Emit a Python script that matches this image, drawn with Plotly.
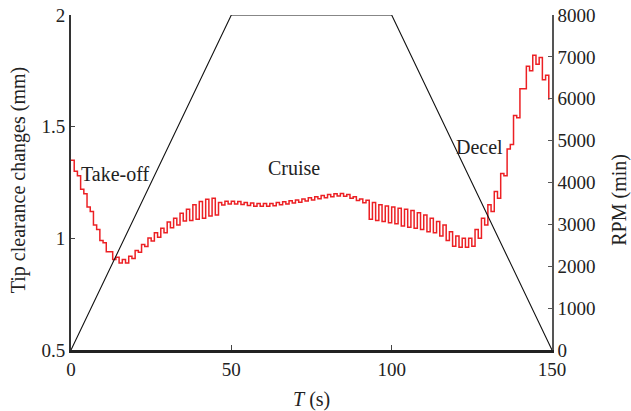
import plotly.graph_objects as go

# Sample times (s) for the tip-clearance record
time_s = list(range(150))

# Tip clearance changes (mm)
clearance_mm = [
    1.35, 1.30, 1.28, 1.22, 1.20, 1.14, 1.12, 1.06, 1.04, 0.99,
    0.98, 0.94, 0.94, 0.905, 0.915, 0.89, 0.905, 0.89, 0.92, 0.91,
    0.945, 0.938, 0.972, 0.963, 1.002, 0.988, 1.025, 1.005, 1.045, 1.025,
    1.073, 1.047, 1.09, 1.06, 1.112, 1.078, 1.13, 1.08, 1.15, 1.085,
    1.165, 1.09, 1.175, 1.10, 1.18, 1.105, 1.16, 1.149, 1.166, 1.154,
    1.166, 1.154, 1.165, 1.152, 1.161, 1.147, 1.158, 1.144, 1.156, 1.144,
    1.156, 1.144, 1.156, 1.146, 1.161, 1.150, 1.164, 1.154, 1.168, 1.158,
    1.172, 1.162, 1.176, 1.167, 1.182, 1.172, 1.186, 1.177, 1.192, 1.182,
    1.196, 1.186, 1.200, 1.189, 1.201, 1.188, 1.196, 1.179, 1.186, 1.169,
    1.176, 1.159, 1.171, 1.085, 1.16, 1.08, 1.15, 1.075, 1.145, 1.07,
    1.14, 1.065, 1.135, 1.055, 1.13, 1.05, 1.125, 1.045, 1.115, 1.04,
    1.105, 1.03, 1.09, 1.025, 1.075, 1.01, 1.06, 0.99, 1.03, 0.965,
    1.01, 0.96, 1.0, 0.96, 1.0, 0.965, 1.04, 1.00, 1.09, 1.06,
    1.15, 1.12, 1.21, 1.18, 1.29, 1.28, 1.40, 1.42, 1.55, 1.54,
    1.67, 1.67, 1.77, 1.75, 1.82, 1.78, 1.81, 1.71, 1.73, 1.62,
]

# RPM profile
rpm_time_s = [0, 50, 100, 150]
rpm_values = [0, 8000, 8000, 0]

# Tick labels
x_ticks = [0, 50, 100, 150]
y_ticks = [0.5, 1, 1.5, 2]
y_tick_text = ["0.5", "1", "1.5", "2"]
y2_ticks = [0, 1000, 2000, 3000, 4000, 5000, 6000, 7000, 8000]

# Phase labels
phase_names = ["Take-off", "Cruise", "Decel"]
phase_x = [14.0, 69.4, 127.5]
phase_y = [1.29, 1.313, 1.41]

FONT = "Liberation Serif, Times New Roman, serif"

fig = go.Figure()
fig.add_trace(go.Scatter(
    x=time_s, y=clearance_mm, mode="lines", line_shape="hv",
    line=dict(color="rgb(236,32,36)", width=1.5), yaxis="y", showlegend=False,
))
fig.add_trace(go.Scatter(
    x=rpm_time_s, y=rpm_values, mode="lines",
    line=dict(color="#111111", width=1.1), yaxis="y2", showlegend=False,
))

for name, xx, yy in zip(phase_names, phase_x, phase_y):
    fig.add_annotation(x=xx, y=yy, xref="x", yref="y", text=name, showarrow=False,
                       xanchor="center", yanchor="middle",
                       font=dict(family=FONT, size=20, color="#222"))

fig.add_annotation(x=-0.110, y=0.507, xref="paper", yref="paper",
                   text="Tip clearance changes (mm)", textangle=-90, showarrow=False,
                   xanchor="center", yanchor="middle",
                   font=dict(family=FONT, size=20, color="#222"))
fig.add_annotation(x=1.141, y=0.448, xref="paper", yref="paper",
                   text="RPM (min)", textangle=-90, showarrow=False,
                   xanchor="center", yanchor="middle",
                   font=dict(family=FONT, size=20, color="#222"))
fig.add_annotation(x=0.5, y=-0.149, xref="paper", yref="paper",
                   text="<i>T</i> (s)", showarrow=False,
                   xanchor="center", yanchor="middle",
                   font=dict(family=FONT, size=20, color="#222"))

fig.update_layout(
    width=631, height=411,
    margin=dict(l=71, r=79, t=15, b=61),
    paper_bgcolor="white", plot_bgcolor="white",
    font=dict(family=FONT, size=19, color="#222"),
    xaxis=dict(range=[0, 150], tickvals=x_ticks, showgrid=False, zeroline=False,
               showline=True, linecolor="#222", linewidth=2.5, automargin=False,
               ticklabeloverflow="allow",
               ticks="inside", ticklen=5, tickcolor="#444", tickwidth=1),
    yaxis=dict(range=[0.5, 2], tickvals=y_ticks, ticktext=y_tick_text,
               showgrid=False, zeroline=False, automargin=False,
               ticklabeloverflow="allow",
               showline=True, linecolor="#333", linewidth=2,
               ticks="inside", ticklen=4, tickcolor="#444", tickwidth=1),
    yaxis2=dict(range=[0, 8000], tickvals=y2_ticks, overlaying="y", side="right",
                showgrid=False, zeroline=False, automargin=False,
                ticklabeloverflow="allow",
                showline=True, linecolor="#555", linewidth=1.5,
                ticks="inside", ticklen=4, tickcolor="#555", tickwidth=1),
)

fig.write_html("out.html",
               config={"displayModeBar": False},
               post_script="document.body.style.margin='0';document.body.style.overflow='hidden';")
